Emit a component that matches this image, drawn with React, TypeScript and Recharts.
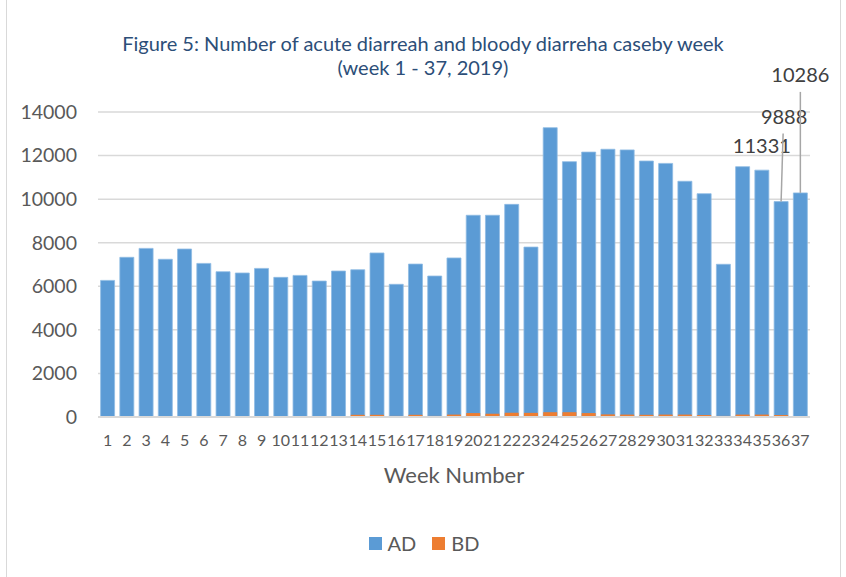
import { BarChart, Bar, XAxis, YAxis, CartesianGrid, Legend, LabelList, Label } from 'recharts';

const weeks = [
  '1', '2', '3', '4', '5', '6', '7', '8', '9', '10', '11', '12', '13', '14', '15', '16', '17', '18', '19',
  '20', '21', '22', '23', '24', '25', '26', '27', '28', '29', '30', '31', '32', '33', '34', '35', '36', '37',
];

const adCases = [
  6270, 7330, 7740, 7240, 7710, 7050, 6670, 6610, 6820, 6410, 6500, 6240, 6700, 6760, 7530, 6090, 7020, 6470, 7300,
  9260, 9260, 9760, 7800, 13280, 11720, 12160, 12290, 12260, 11750, 11640, 10820, 10250, 7010, 11490, 11331, 9888, 10286,
];

const bdCases = [
  10, 30, 30, 30, 15, 15, 15, 15, 30, 30, 30, 15, 40, 100, 100, 50, 100, 50, 110,
  180, 150, 190, 190, 220, 220, 180, 120, 110, 100, 110, 110, 90, 50, 110, 110, 90, 40,
];

const yTicks = [0, 2000, 4000, 6000, 8000, 10000, 12000, 14000];

// weeks that carry a data label in the original figure
const calloutWeeks = ['35', '36', '37'];

const seriesColors: Record<string, string> = { AD: '#5B9BD5', BD: '#ED7D31' };

const data = weeks.map((week, i) => ({ week, AD: adCases[i], BD: bdCases[i] }));

const Callout = (props: any) => {
  const { x, y, width, value, index } = props;
  const week = weeks[index];
  if (!calloutWeeks.includes(week)) return null;
  const cx = x + width / 2;
  const textStyle = { fontSize: 20, fill: '#404040', fontFamily: 'Lato' };

  if (week === '35') {
    return (
      <text x={cx} y={y - 25} textAnchor="middle" dominantBaseline="central" style={textStyle}>
        {value}
      </text>
    );
  }
  if (week === '36') {
    return (
      <g>
        <line x1={cx + 2} y1={y - 68} x2={cx} y2={y} stroke="#a6a6a6" strokeWidth={1.5} />
        <text x={cx + 3} y={y - 86} textAnchor="middle" dominantBaseline="central" style={textStyle}>
          {value}
        </text>
      </g>
    );
  }
  return (
    <g>
      <line x1={cx} y1={y - 101} x2={cx} y2={y} stroke="#a6a6a6" strokeWidth={1.5} />
      <text x={cx} y={y - 119} textAnchor="middle" dominantBaseline="central" style={textStyle}>
        {value}
      </text>
    </g>
  );
};

const LegendBox = (props: any) => {
  const { payload } = props;
  return (
    <div style={{ display: 'flex', justifyContent: 'center', alignItems: 'center', gap: 16 }}>
      {(payload || []).map((item: any) => (
        <div key={item.value} style={{ display: 'flex', alignItems: 'center', gap: 6 }}>
          <span style={{ width: 13, height: 13, background: seriesColors[item.value], display: 'inline-block' }} />
          <span style={{ color: '#595959', fontSize: 20 }}>{item.value}</span>
        </div>
      ))}
    </div>
  );
};

export default function App() {
  return (
    <div
      style={{
        position: 'absolute',
        left: 0,
        top: 0,
        width: 846,
        height: 577,
        background: '#fff',
        fontFamily: 'Lato',
      }}
    >
      <div style={{ position: 'absolute', left: 6, top: 0, width: 833, height: 577, borderLeft: '1.5px solid #d9d9d9', borderRight: '1.5px solid #d9d9d9' }} />
      <div
        style={{
          position: 'absolute',
          left: 0,
          top: 31,
          width: 846,
          textAlign: 'center',
          color: '#2C4E78',
          fontSize: 20,
          lineHeight: '24px',
        }}
      >
        Figure 5: Number of acute diarreah and bloody diarreha caseby week
        <br />
        (week 1 - 37, 2019)
      </div>
      <BarChart
        width={846}
        height={577}
        data={data}
        margin={{ top: 112, right: 36, left: 38, bottom: 50 }}
        barCategoryGap="13.5%"
      >
        <CartesianGrid vertical={false} stroke="#d9d9d9" strokeWidth={1.5} />
        <XAxis
          dataKey="week"
          interval={0}
          height={80}
          tickLine={false}
          tickSize={0}
          tickMargin={18}
          axisLine={{ stroke: '#d9d9d9', strokeWidth: 2 }}
          tick={{ fontSize: 16, fill: '#595959' }}
        >
          <Label value="Week Number" position="insideBottom" offset={14} style={{ fontSize: 22, fill: '#595959' }} />
        </XAxis>
        <XAxis dataKey="week" xAxisId="bd" hide />
        <YAxis
          width={60}
          domain={[0, 14000]}
          ticks={yTicks}
          interval={0}
          axisLine={false}
          tickLine={false}
          tickSize={0}
          tickMargin={21}
          tick={{ fontSize: 19.5, fill: '#595959' }}
        />
        <Legend height={30} wrapperStyle={{ top: 531 }} content={LegendBox} />
        <Bar dataKey="AD" fill="#5B9BD5" stroke="#8fbbe3" strokeWidth={0.8} isAnimationActive={false}>
          <LabelList dataKey="AD" content={Callout} />
        </Bar>
        <Bar dataKey="BD" xAxisId="bd" fill="#ED7D31" isAnimationActive={false} />
      </BarChart>
    </div>
  );
}
